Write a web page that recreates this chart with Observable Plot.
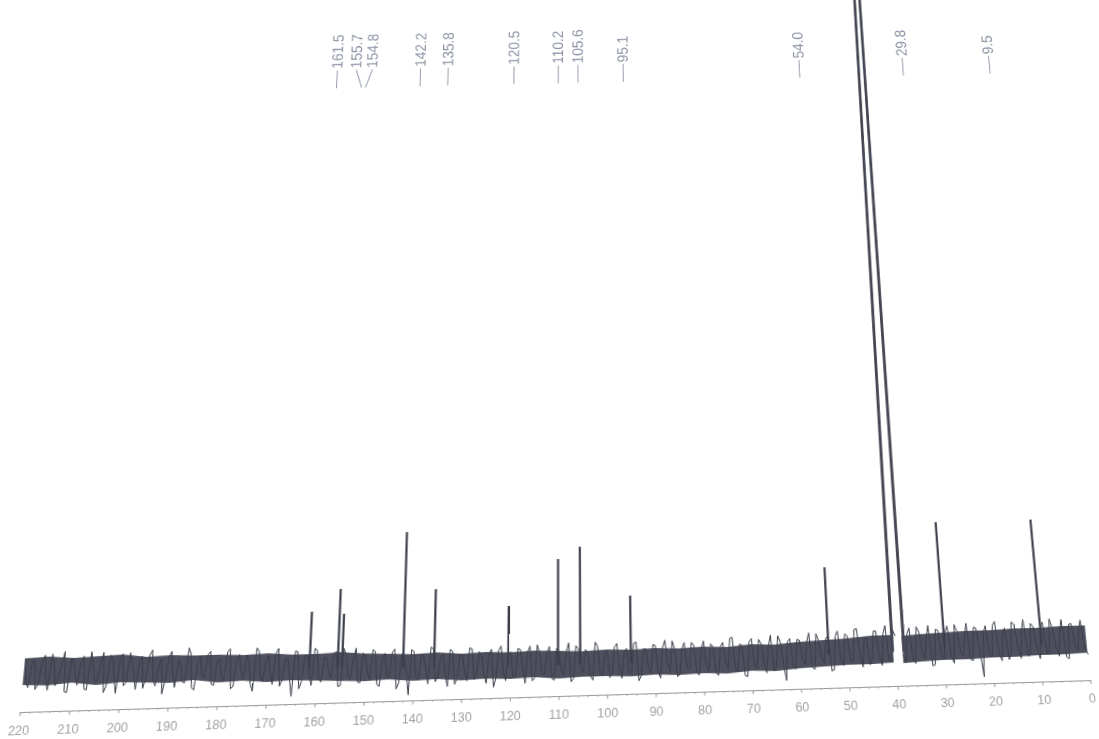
<!DOCTYPE html>
<html><head><meta charset="utf-8">
<script src="https://cdn.jsdelivr.net/npm/d3@7"></script>
<script src="https://cdn.jsdelivr.net/npm/@observablehq/plot@0.6"></script>
<style>
html,body{margin:0;padding:0;background:#fff;overflow:hidden;width:1099px;height:739px;}
#chart svg{display:block;}
</style>
</head><body><div id="chart"></div>
<script>
// ---- data (13C NMR, intensities in arbitrary units) ----
const peakPpm    = [161.5, 155.7, 154.8, 142.2, 135.8, 120.5, 110.2, 105.6, 95.1, 54.0, 29.8, 9.5];
const peakLabel  = ["161.5","155.7","154.8","142.2","135.8","120.5","110.2","105.6","95.1","54.0","29.8","9.5"];
const peakTop    = [90, 112, 87, 168, 109, 90, 136, 148, 97, 120, 163, 163];
const peakBase   = [35, 34, 34, 32, 32, 31, 30, 30, 30, 33, 36, 37];

// solvent (DMSO-d6) peak, runs off scale
const solventPpm = [40.7, 39.5, 38.3];
const solventInt = [35, 1500, 35];

// baseline noise envelope
const bandPpm  = [220,215,210,205,200,195,190,185,180,175,170,165,160,155,150,145,140,135,130,125,120,115,110,105,100,95,90,85,80,75,70,65,60,55,50,45,40.5,39.5,38.5,35,30,25,20,15,10,5,0];
const bandLow  = [26,25,27,24,26,25,24,26,23,24,22,23,22,21,20,21,19,20,18,19,18,19,17,18,18,17,18,17,18,17,19,18,20,21,22,22,23,NaN,22,23,24,24,25,25,26,26,27];
const bandHigh = [52,53,51,52,53,50,51,50,50,49,50,48,48,49,47,46,45,46,44,45,44,45,44,43,44,43,44,43,44,43,45,44,46,47,48,50,50,NaN,49,50,51,52,52,53,53,54,54];

// baseline noise trace: samples at whole ppm (220 → 0) ...
const noise = [
 52,24,49,27,55,21,46,30,58,18,
 47,25,53,20,44,28,56,23,50,16,
 54,26,45,19,51,29,57,22,48,27,
 55,20,43,24,52,17,49,28,54,21,
 46,25,56,19,50,26,44,14,53,23,
 48,20,55,24,45,8,51,22,47,18,
 52,21,44,25,50,17,46,23,53,19,
 45,22,49,15,47,24,51,18,44,6,
 48,20,43,16,50,22,45,13,47,21,
 44,18,49,23,42,15,48,20,51,17,
 45,21,47,14,50,19,43,22,49,16,
 44,20,52,17,46,23,41,15,48,19,
 43,21,50,16,45,22,51,18,44,20,
 47,15,52,21,43,18,49,23,46,17,
 50,20,44,16,48,22,53,19,45,14,
 51,21,46,17,54,23,47,9,50,20,
 48,24,55,19,47,25,52,18,56,22,
 51,26,58,20,49,27,55,21,60,24,
 50,NaN,24,57,22,53,27,59,20,54,
 25,58,21,52,28,60,23,55,7,57,
 26,61,22,54,29,58,24,62,27,55,
 23,59,28,53,25,61,22,57,29,60,
 26];
// ... and at half ppm (219.5 → 0.5)
const noiseHalf = [
 30,50,22,47,33,56,25,44,19,51,
 35,48,21,57,29,45,17,53,31,49,
 23,55,34,46,20,52,28,43,14,50,
 32,47,25,58,19,44,30,51,22,45,
 28,53,17,46,33,49,21,56,27,42,
 30,50,18,44,26,52,15,47,29,54,
 24,45,31,49,16,53,27,42,20,48,
 29,51,17,43,25,48,12,46,28,50,
 22,45,30,52,18,41,26,49,15,44,
 27,50,19,46,24,43,11,47,26,42,
 20,48,28,44,16,51,23,42,18,47,
 25,43,14,49,27,45,19,52,22,41,
 17,47,26,42,20,50,13,44,25,48,
 21,45,28,51,16,43,24,49,19,42,
 26,47,18,44,29,52,21,46,15,48,
 24,50,27,43,19,53,26,47,22,49,
 28,46,21,54,30,49,17,51,27,53,
 25,57,31,48,22,55,29,52,26,56,
 NaN,30,51,25,58,32,47,19,55,29,
 52,27,59,31,46,24,56,33,50,28,
 57,30,49,23,60,34,51,26,58,31,
 53,27,62,32,48,24,56,35,50,30];

const axisTicks = [220,210,200,190,180,170,160,150,140,130,120,110,100,90,80,70,60,50,40,30,20,10,0];

// ---- derived tables ----
const peaks = peakPpm.map((p, i) => ({ppm: p, label: peakLabel[i], top: peakTop[i], base: peakBase[i]}));
const solvent = solventPpm.map((p, i) => ({ppm: p, v: solventInt[i]}));
const band = bandPpm.map((p, i) => ({ppm: p, lo: bandLow[i], hi: bandHigh[i]}));
const trace = noise.map((v, i) => ({ppm: 220 - i, v}))
  .concat(noiseHalf.map((v, i) => ({ppm: 219.5 - i, v})))
  .sort((a, b) => b.ppm - a.ppm);

// spread crowded peak labels apart (in ppm units)
const minGap = 3.7;
const lab = peaks.map(d => ({...d, labelPpm: d.ppm}));
for (let it = 0; it < 60; it++) {
  for (let i = 0; i < lab.length - 1; i++) {
    const d = lab[i].labelPpm - lab[i + 1].labelPpm;
    if (d < minGap) {
      const s = (minGap - d) / 2;
      lab[i].labelPpm += s; lab[i + 1].labelPpm -= s;
    }
  }
}

const dark = "#3b3e4a";
const labelLevel = 694;   // label row (intensity units, above the frame)
const chart = Plot.plot({
  width: 1099,
  height: 739,
  marginLeft: 28.3,
  marginRight: 11.2,
  marginTop: 34,
  marginBottom: 42,
  style: {fontFamily: "'Liberation Sans', Arial, sans-serif", background: "white", overflow: "visible"},
  x: {domain: [220, 0], axis: null},
  y: {domain: [0, 663], axis: null},
  marks: [
    Plot.ruleY([0], {stroke: "#9a9a9a", strokeWidth: 1}),
    Plot.axisX(d3.range(0, 221, 2), {anchor: "bottom", tickSize: 2, tickFormat: () => "", color: "#ababab", label: null}),
    Plot.axisX(axisTicks, {anchor: "bottom", tickSize: 4, tickPadding: 9, fontSize: 12.5, color: "#a2a2a2", label: null}),
    Plot.areaY(band, {x: "ppm", y1: "lo", y2: "hi", fill: "#4e515d", curve: "linear"}),
    Plot.line(trace, {x: "ppm", y: "v", stroke: dark, strokeWidth: 1}),
    Plot.ruleX(peaks, {x: "ppm", y1: "base", y2: "top", stroke: dark, strokeWidth: 2.2}),
    Plot.line(solvent, {x: "ppm", y: "v", stroke: "#454854", strokeWidth: 3}),
    Plot.link(lab, {x1: "labelPpm", x2: "ppm", y1: labelLevel - 2, y2: labelLevel - 24, stroke: "#959cab", strokeWidth: 1.1}),
    Plot.text(lab, {x: "labelPpm", y: labelLevel, text: "label", rotate: -90, textAnchor: "start", fontSize: 17, fill: "#8a91a2"})
  ]
});
document.getElementById("chart").appendChild(chart);

// ---- reproduce the rotation / keystone of the photographed printout ----
// least-squares homography from landmarks: [ppm, intensity, x, y in the photo, weight]
const landmarks = [
  // axis ticks
  [220, 0, 15, 711, 2], [190, 0, 163, 707, 1], [140, 0, 414, 700.5, 1], [100, 0, 612, 695.5, 1],
  [70, 0, 755, 692, 1], [40, 0, 903, 688, 1], [10, 0, 1043, 684.5, 3], [0, 0, 1086, 683, 8],
  // feet of the peaks on the noise band
  [161.5, 48, 310, 653, 1], [142.2, 45, 407, 650, 1], [120.5, 44, 512, 647, 1], [95.1, 43, 632, 643, 1],
  [54.0, 47, 829, 633, 1], [29.8, 51, 945, 627, 1], [9.5, 53, 1042, 624, 1],
  // peak tips
  [161.5, 90, 310, 613, 1], [142.2, 168, 408, 533, 1], [110.2, 136, 562, 560, 1], [105.6, 148, 583, 547, 1],
  [54.0, 120, 827, 567, 1], [29.8, 163, 940, 519, 1], [9.5, 163, 1032, 516, 1],
  // foot of the label row
  [142.2, labelLevel, 417, 73, 1], [120.5, labelLevel, 513, 70, 1], [110.2, labelLevel, 558, 68, 1],
  [95.1, labelLevel, 620, 73, 1], [54.0, labelLevel, 797, 47, 1], [29.8, labelLevel, 902, 48, 1], [9.5, labelLevel, 990, 48, 1]
];
function gaussSolve(M, v) {
  const n = v.length, A = M.map((r, i) => [...r, v[i]]);
  for (let c = 0; c < n; c++) {
    let p = c;
    for (let r = c + 1; r < n; r++) if (Math.abs(A[r][c]) > Math.abs(A[p][c])) p = r;
    [A[c], A[p]] = [A[p], A[c]];
    for (let r = 0; r < n; r++) {
      if (r === c) continue;
      const f = A[r][c] / A[c][c];
      for (let k = c; k <= n; k++) A[r][k] -= f * A[c][k];
    }
  }
  return A.map((r, i) => r[n] / r[i]);
}
const sx = chart.scale("x"), sy = chart.scale("y");
const k = 0.001, rows = [], rhs = [], wts = [];
for (const [p, v, X0, Y0, w] of landmarks) {
  const x = sx.apply(p) * k, y = sy.apply(v) * k, X = X0 * k, Y = Y0 * k;
  rows.push([x, y, 1, 0, 0, 0, -x * X, -y * X]); rhs.push(X); wts.push(w);
  rows.push([0, 0, 0, x, y, 1, -x * Y, -y * Y]); rhs.push(Y); wts.push(w);
}
const N = Array.from({length: 8}, () => Array(8).fill(0)), t = Array(8).fill(0);
rows.forEach((r, i) => {
  for (let a = 0; a < 8; a++) { t[a] += wts[i] * r[a] * rhs[i]; for (let b = 0; b < 8; b++) N[a][b] += wts[i] * r[a] * r[b]; }
});
const hn = gaussSolve(N, t);
const H = [hn[0], hn[1], hn[2] / k, hn[3], hn[4], hn[5] / k, hn[6] * k, hn[7] * k].map(v => v.toFixed(12));
chart.style.transformOrigin = "0 0";
chart.style.transform = `matrix3d(${H[0]},${H[3]},0,${H[6]},${H[1]},${H[4]},0,${H[7]},0,0,1,0,${H[2]},${H[5]},0,1)`;
</script>
</body></html>
